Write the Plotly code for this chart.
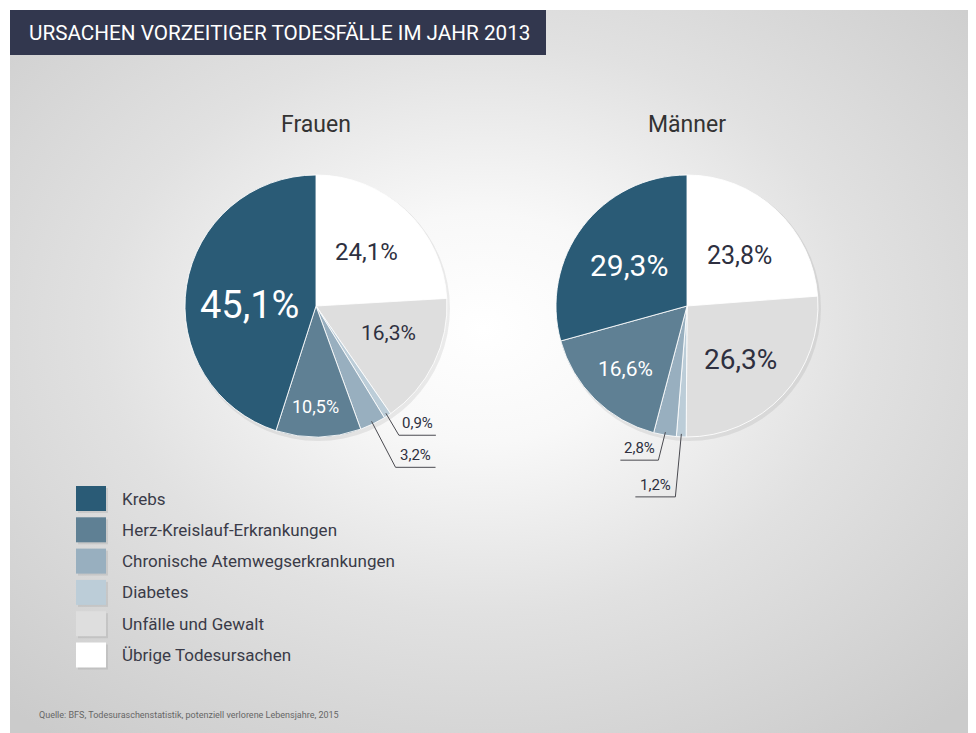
import base64
import math
import plotly.graph_objects as go

# The page body has an 8px default margin; the figure is sized to fill the
# rest of the 976x733 window and all coordinates below are window pixels.
WIN_W, WIN_H = 976, 733
OFF = 8
W, H = WIN_W - OFF, WIN_H - OFF

# ---------------- data ----------------
causes = ["Übrige Todesursachen", "Unfälle und Gewalt", "Diabetes",
          "Chronische Atemwegserkrankungen", "Herz-Kreislauf-Erkrankungen", "Krebs"]
frauen = [24.1, 16.3, 0.9, 3.2, 10.5, 45.1]
maenner = [23.8, 26.3, 1.2, 2.8, 16.6, 29.3]
groups = ["Frauen", "Männer"]
legend_order = ["Krebs", "Herz-Kreislauf-Erkrankungen", "Chronische Atemwegserkrankungen",
                "Diabetes", "Unfälle und Gewalt", "Übrige Todesursachen"]
title_text = "URSACHEN VORZEITIGER TODESFÄLLE IM JAHR 2013"
source_text = "Quelle: BFS, Todesuraschenstatistik, potenziell verlorene Lebensjahre, 2015"

# ---------------- style ----------------
FONT = "Roboto"
DARK = "#2e3040"
colors = {
    "Krebs": "#2a5b76",
    "Herz-Kreislauf-Erkrankungen": "#5f8094",
    "Chronische Atemwegserkrankungen": "#98afbf",
    "Diabetes": "#bccdd8",
    "Unfälle und Gewalt": "#dedede",
    "Übrige Todesursachen": "#ffffff",
}
pie_center = {"Frauen": (316, 306), "Männer": (687, 306)}
R = 131
# inside label style: (font size, radial fraction, angle shift, color)
inside_style = {
    "Frauen": {
        "Übrige Todesursachen": (24, 0.567, -0.4, DARK),
        "Unfälle und Gewalt": (21, 0.59, -5.8, DARK),
        "Herz-Kreislauf-Erkrankungen": (18, 0.77, 1.1, "white"),
        "Krebs": (38, 0.51, -8.1, "white"),
    },
    "Männer": {
        "Übrige Todesursachen": (25, 0.56, 3.3, DARK),
        "Unfälle und Gewalt": (28, 0.58, 1.8, DARK),
        "Herz-Kreislauf-Erkrankungen": (21, 0.67, -0.5, "white"),
        "Krebs": (30, 0.54, -2.2, "white"),
    },
}
# outside label style: (elbow dx, elbow dy, underline length, side)
outside_style = {
    "Frauen": {
        "Diabetes": (13, 22, 37, "right"),
        "Chronische Atemwegserkrankungen": (24, 46, 40, "right"),
    },
    "Männer": {
        "Chronische Atemwegserkrankungen": (-7, 28, 38, "left"),
        "Diabetes": (-6, 63, 40, "left"),
    },
}


def px(x):
    return (x - OFF) / W


def py(y):
    return 1 - (y - OFF) / H


def fmt(v):
    return f"{v:.1f}".replace(".", ",") + "%"


fig = go.Figure()
shapes = []
annotations = []

series = {"Frauen": frauen, "Männer": maenner}
for g in groups:
    vals = series[g]
    cx, cy = pie_center[g]
    # soft shadow under the pie
    shapes.append(dict(type="circle", xref="paper", yref="paper",
                       x0=px(cx - R + 1), x1=px(cx + R + 3), y0=py(cy + R + 4), y1=py(cy - R + 1),
                       fillcolor="rgba(0,0,0,0.07)", line=dict(width=0), layer="below"))
    fig.add_trace(go.Pie(
        values=vals, labels=causes, sort=False, direction="clockwise", rotation=0,
        textinfo="none", hoverinfo="label+value", showlegend=False,
        marker=dict(colors=[colors[c] for c in causes],
                    line=dict(color="rgba(255,255,255,0.85)", width=1)),
        domain=dict(x=[px(cx - R), px(cx + R)], y=[py(cy + R), py(cy - R)]),
    ))
    annotations.append(dict(text=g, xref="paper", yref="paper", x=px(cx), y=py(125),
                            showarrow=False, xanchor="center", yanchor="middle",
                            font=dict(family=FONT, size=23, color="#333333")))
    total = sum(vals)
    cum = 0.0
    for c, v in zip(causes, vals):
        a0 = cum / total * 360
        cum += v
        a1 = cum / total * 360
        mid = (a0 + a1) / 2
        if c in inside_style[g]:
            size, frac, shift, col = inside_style[g][c]
            ang = math.radians(mid + shift)
            x = cx + frac * R * math.sin(ang)
            y = cy - frac * R * math.cos(ang)
            annotations.append(dict(text=fmt(v), xref="paper", yref="paper", x=px(x), y=py(y),
                                    showarrow=False, xanchor="center", yanchor="middle",
                                    font=dict(family=FONT, size=size, color=col)))
        elif c in outside_style[g]:
            edx, edy, ulen, side = outside_style[g][c]
            ang = math.radians(mid)
            sx = cx + (R - 3) * math.sin(ang)
            sy = cy - (R - 3) * math.cos(ang)
            ex, ey = sx + edx, sy + edy
            endx = ex + ulen if side == "right" else ex - ulen
            for (xa, ya, xb, yb) in [(sx, sy, ex, ey), (ex, ey, endx, ey)]:
                shapes.append(dict(type="line", xref="paper", yref="paper",
                                   x0=px(xa), y0=py(ya), x1=px(xb), y1=py(yb),
                                   line=dict(color="#4a4a50", width=1), layer="above"))
            annotations.append(dict(text=fmt(v), xref="paper", yref="paper",
                                    x=px((ex + endx) / 2), y=py(ey - 1),
                                    showarrow=False, xanchor="center", yanchor="bottom",
                                    font=dict(family=FONT, size=15, color=DARK)))

# title bar
shapes.append(dict(type="rect", xref="paper", yref="paper", x0=px(10), x1=px(546),
                   y0=py(55), y1=py(10), fillcolor="#32374e", line=dict(width=0), layer="below"))
annotations.append(dict(text=title_text, xref="paper", yref="paper", x=px(27), y=py(33),
                        showarrow=False, xanchor="left", yanchor="middle",
                        font=dict(family=FONT, size=20.7, color="white")))

# legend
for i, c in enumerate(legend_order):
    top = 486 + i * 31.3
    shapes.append(dict(type="rect", xref="paper", yref="paper", x0=px(78), x1=px(108),
                       y0=py(top + 27), y1=py(top + 2), fillcolor="rgba(0,0,0,0.08)",
                       line=dict(width=0), layer="below"))
    shapes.append(dict(type="rect", xref="paper", yref="paper", x0=px(76), x1=px(106),
                       y0=py(top + 25), y1=py(top), fillcolor=colors[c],
                       line=dict(width=0), layer="below"))
    annotations.append(dict(text=c, xref="paper", yref="paper", x=px(120), y=py(top + 12.5),
                            showarrow=False, xanchor="left", yanchor="middle",
                            font=dict(family=FONT, size=17, color="#3a3b48")))

# source
annotations.append(dict(text=source_text, xref="paper", yref="paper", x=px(37), y=py(715),
                        showarrow=False, xanchor="left", yanchor="middle",
                        font=dict(family=FONT, size=9, color="#666666")))

# background gradient (window area from x=10, y=10 to the bottom-right corner)
gw, gh = WIN_W - 10, WIN_H - 10
svg = (f'<svg xmlns="http://www.w3.org/2000/svg" width="{gw}" height="{gh}" viewBox="0 0 {gw} {gh}" '
       'preserveAspectRatio="none"><defs><radialGradient id="g" cx="0.49" cy="0.44" r="0.72">'
       '<stop offset="0" stop-color="#ffffff"/><stop offset="0.22" stop-color="#f8f8f8"/>'
       '<stop offset="0.55" stop-color="#e1e1e1"/><stop offset="1" stop-color="#cbcbcb"/>'
       f'</radialGradient></defs><rect width="{gw}" height="{gh}" fill="url(#g)"/></svg>')
src = "data:image/svg+xml;base64," + base64.b64encode(svg.encode()).decode()

fig.update_layout(
    width=W, height=H, margin=dict(l=0, r=0, t=0, b=0),
    paper_bgcolor="white", plot_bgcolor="rgba(0,0,0,0)",
    shapes=shapes, annotations=annotations,
    images=[dict(source=src, xref="paper", yref="paper", x=px(10), y=py(10),
                 sizex=gw / W, sizey=gh / H, xanchor="left", yanchor="top",
                 sizing="stretch", layer="below")],
    showlegend=False,
)

fig.write_html("out.html")
